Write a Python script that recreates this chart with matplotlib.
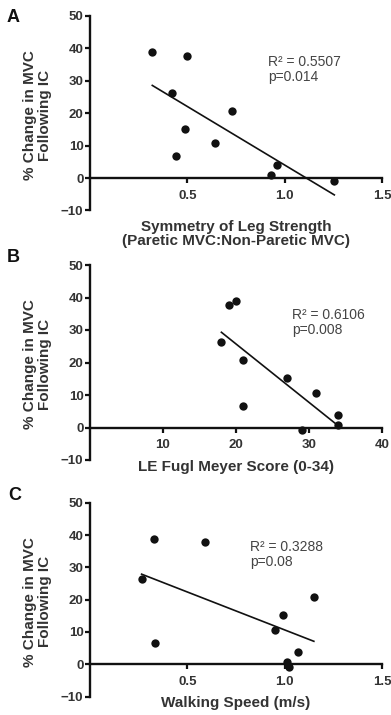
import numpy as np
import matplotlib
matplotlib.use('Agg')
import matplotlib.pyplot as plt

plt.rcParams['font.family'] = ['Liberation Sans', 'DejaVu Sans']

# % change in MVC following IC (one value per participant)
pct_change = [38.8, 37.7, 26.3, 20.7, 15.2, 10.7, 6.7, 3.9, 0.8, -0.8]
# Panel A: symmetry of leg strength (paretic MVC : non-paretic MVC)
symmetry = [0.32, 0.50, 0.42, 0.73, 0.49, 0.64, 0.44, 0.96, 0.93, 1.255]
# Panel B: LE Fugl Meyer score (0-34)
fugl_meyer = [20, 19, 18, 21, 27, 31, 21, 34, 34, 29]
# Panel C: walking speed (m/s)
walk_speed = [0.33, 0.59, 0.265, 1.15, 0.99, 0.95, 0.335, 1.067, 1.013, 1.024]

panel_letters = ['A', 'B', 'C']
x_labels = ['Symmetry of Leg Strength\n(Paretic MVC:Non-Paretic MVC)',
            'LE Fugl Meyer Score (0-34)',
            'Walking Speed (m/s)']
stats_text = ['R² = 0.5507\np=0.014', 'R² = 0.6106\np=0.008', 'R² = 0.3288\np=0.08']
x_ticks = [[0.5, 1.0, 1.5], [10, 20, 30, 40], [0.5, 1.0, 1.5]]
x_tick_labels = [['0.5', '1.0', '1.5'], ['10', '20', '30', '40'], ['0.5', '1.0', '1.5']]
x_limits = [(0, 1.5), (0, 40), (0, 1.5)]
y_ticks = [-10, 0, 10, 20, 30, 40, 50]

W, H = 391, 715
fig = plt.figure(figsize=(W / 100, H / 100), dpi=100)

text_col = '#333333'
# axes boxes in pixel coords: (left, top, right, bottom)
boxes = [(90, 16, 382, 210.5), (90, 265, 382, 460), (90, 502.7, 382, 696.6)]
stat_pos = [(0.61, 0.726), (0.692, 0.705), (0.548, 0.733)]
letter_pos = [(7, 9), (7, 249), (8, 487)]
xlabel_y = [-0.123, -0.036, -0.035]

xs_all = [symmetry, fugl_meyer, walk_speed]

for i in range(3):
    l, t, r, b = boxes[i]
    ax = fig.add_axes([l / W, 1 - b / H, (r - l) / W, (b - t) / H])
    x = np.array(xs_all[i], dtype=float)
    y = np.array(pct_change, dtype=float)
    ax.scatter(x, y, s=36, color='#111111', zorder=3, linewidths=0)
    slope, intercept = np.polyfit(x, y, 1)
    xl = np.array([x.min(), x.max()])
    ax.plot(xl, slope * xl + intercept, color='#111111', lw=1.2, zorder=2)

    ax.set_xlim(*x_limits[i])
    ax.set_ylim(-10, 50)
    ax.set_xticks(x_ticks[i])
    ax.set_xticklabels(x_tick_labels[i])
    ax.set_yticks(y_ticks)
    ax.spines['top'].set_visible(False)
    ax.spines['right'].set_visible(False)
    ax.spines['bottom'].set_position(('data', 0))
    for s in ['left', 'bottom']:
        ax.spines[s].set_linewidth(1.7)
        ax.spines[s].set_color('#111111')
    ax.tick_params(axis='both', direction='out', length=3.5, width=1.6,
                   color='#111111', labelsize=9.5, labelcolor=text_col)
    ax.tick_params(axis='x', pad=5.0)
    ax.tick_params(axis='y', pad=1.2)
    for lab in ax.get_xticklabels() + ax.get_yticklabels():
        lab.set_fontweight('bold')
    ax.set_facecolor('none')

    ax.text(-0.18, 0.49, '% Change in MVC\nFollowing IC', transform=ax.transAxes,
            rotation=90, ha='center', va='center', fontsize=11, fontweight='bold',
            color=text_col, multialignment='center', linespacing=1.12)
    ax.text(0.5, xlabel_y[i], x_labels[i], transform=ax.transAxes, ha='center',
            va='center', fontsize=11, fontweight='bold', color=text_col, linespacing=1.0)
    ax.text(stat_pos[i][0], stat_pos[i][1], stats_text[i], transform=ax.transAxes,
            ha='left', va='center', fontsize=10, color='#444444', linespacing=1.05)
    fig.text(letter_pos[i][0] / W, 1 - letter_pos[i][1] / H, panel_letters[i],
             ha='left', va='top', fontsize=13, fontweight='bold', color='#111111')

fig.savefig('out.png', dpi=100)
